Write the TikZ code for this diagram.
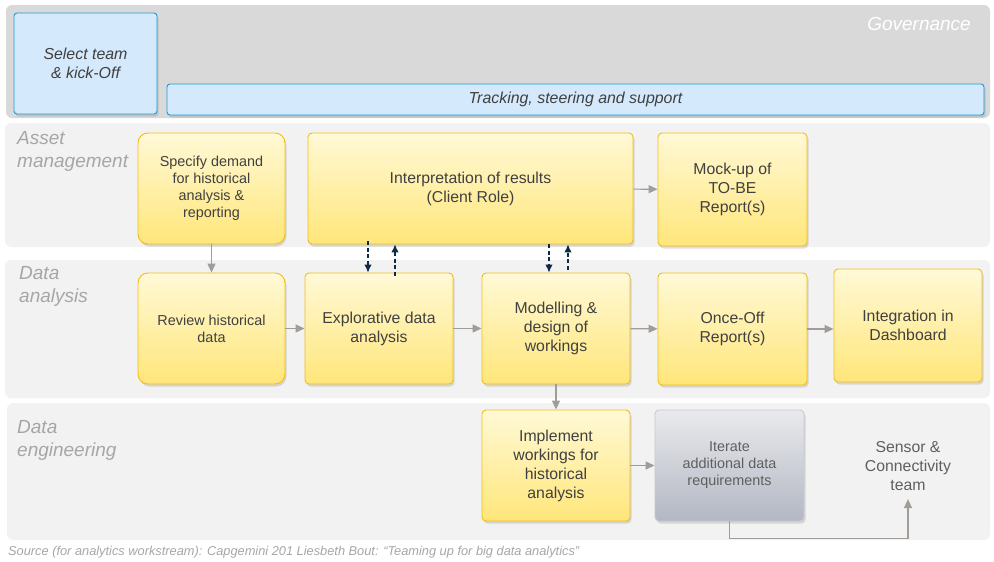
\documentclass[tikz,border=0pt]{standalone}
\usepackage{fontspec}
\setmainfont{Liberation Sans}
\usetikzlibrary{arrows.meta, shadows, positioning}
\definecolor{govgrey}{HTML}{D9D9D9}
\definecolor{lanegrey}{HTML}{F2F2F2}
\definecolor{lanetext}{HTML}{A6A6A6}
\definecolor{boxtext}{HTML}{404040}
\definecolor{softtext}{HTML}{5F5F5F}
\definecolor{taskline}{HTML}{F2BD16}
\definecolor{tasktop}{HTML}{FFF9D6}
\definecolor{taskbot}{HTML}{FFE67A}
\definecolor{bluefill}{HTML}{D4E9FC}
\definecolor{blueline}{HTML}{1D9BD6}
\definecolor{linkgrey}{HTML}{A29C98}
\definecolor{navy}{HTML}{0D2A47}
\definecolor{itertop}{HTML}{E9EAED}
\definecolor{iterbot}{HTML}{B3B7C3}
\definecolor{iterline}{HTML}{C9CACC}
\tikzset{
  boxfont/.style={font=\fontsize{15.8}{19}\selectfont},
  smallfont/.style={font=\fontsize{14.4}{17}\selectfont},
  shade/.style={drop shadow={opacity=0.25, shadow xshift=1.5pt, shadow yshift=-2.5pt}},
  task/.style={draw=taskline, line width=0.9pt, rounded corners=4pt, top color=tasktop,
    bottom color=taskbot, text=boxtext, align=center, inner sep=0pt, shade, boxfont},
  govbox/.style={draw=blueline, line width=0.9pt, rounded corners=3pt, fill=bluefill,
    text=boxtext, align=center, inner sep=0pt, shade, font=\itshape\fontsize{15.9}{19}\selectfont},
  lane/.style={fill=lanegrey, rounded corners=6pt},
  lanelabel/.style={anchor=west, inner sep=0pt, align=left, text=lanetext,
    font=\itshape\fontsize{19}{23}\selectfont},
  link/.style={draw=linkgrey, line width=1.2pt, -{Triangle[length=9pt,width=8pt]}},
  dlink/.style={draw=navy, line width=1.1pt, dash pattern=on 4pt off 2.5pt, -{Latex[length=8pt,width=7.5pt]}}
}

\begin{document}
\begin{tikzpicture}[x=1pt, y=-1pt]
\useasboundingbox (0,0) rectangle (994,562);
%% lanes
  \fill[govgrey, rounded corners=6pt] (6,5) rectangle (990,118);
  \fill[lane] (5,123) rectangle (990,247);
  \fill[lane] (5,260) rectangle (990,398);
  \fill[lane] (7,403) rectangle (990,540);
  \node[anchor=east, inner sep=0pt, text=white, font=\itshape\fontsize{19}{23}\selectfont] (gov) at (971,24) {Governance};
  \node[lanelabel] (asset) at (17,151) {Asset\\management};
  \node[lanelabel] (analysis) at (19,286) {Data\\analysis};
  \node[lanelabel] (eng) at (17,440) {Data\\engineering};
%% governance
  \node[govbox, minimum width=143pt, minimum height=101pt] (sel) at (85.5,63.5) {Select team\\ \& kick-Off};
  \node[govbox, minimum width=817pt, minimum height=31pt] (track) at (575.5,99.5) {Tracking, steering and support};
%% asset management
  \node[task, smallfont, rounded corners=10pt, minimum width=147pt, minimum height=111pt] (spec) at (211.5,188.5) {Specify demand\\for historical\\analysis \&\\reporting};
  \node[task, minimum width=325pt, minimum height=111pt] (interp) at (470.5,188.5) {Interpretation of results\\(Client Role)};
  \node[task, minimum width=149pt, minimum height=113pt] (mock) at (732.5,189.5) {Mock-up of\\TO-BE\\Report(s)};
%% data analysis
  \node[task, smallfont, rounded corners=10pt, minimum width=147pt, minimum height=111pt] (review) at (211.5,328.5) {Review historical\\data};
  \node[task, minimum width=148pt, minimum height=111pt] (expl) at (379,328.5) {Explorative data\\analysis};
  \node[task, minimum width=148pt, minimum height=111pt] (model) at (556,328.5) {Modelling \&\\design of\\workings};
  \node[task, minimum width=149pt, minimum height=112pt] (once) at (732.5,329) {Once-Off\\Report(s)};
  \node[task, minimum width=148pt, minimum height=113pt] (integ) at (908,325.5) {Integration in\\Dashboard};
%% data engineering
  \node[task, minimum width=148pt, minimum height=111pt] (impl) at (556,465.5) {Implement\\workings for\\historical\\analysis};
  \node[draw=iterline, line width=0.9pt, rounded corners=4pt, top color=itertop, bottom color=iterbot,
    text=softtext, align=center, inner sep=0pt, shade, smallfont,
    minimum width=149pt, minimum height=111pt] (iter) at (729.5,465.5) {Iterate\\additional data\\requirements};
  \node[text=softtext, align=center, boxfont] (sensor) at (908,466) {Sensor \&\\Connectivity\\team};
%% connectors
  \draw[link] (spec) -- (review);
  \draw[link] (review) -- (expl);
  \draw[link] (expl) -- (model);
  \draw[link] (model) -- (once);
  \draw[link] (once.east) -- (once.east -| integ.west);
  \draw[link] (interp) -- (mock);
  \draw[link] (model) -- (impl);
  \draw[link] (impl) -- (iter);
  \coordinate (team) at ([yshift=-5pt]sensor.south);
  \draw[link] (iter.south) -- ++(0,17) -| (team);
%% feedback with the client
  \coordinate (e1) at ([xshift=-11pt]expl.north);
  \coordinate (e2) at ([xshift=16pt]expl.north);
  \coordinate (m1) at ([xshift=-7pt]model.north);
  \coordinate (m2) at ([xshift=12pt]model.north);
  \draw[dlink] ([yshift=3pt]e1 |- interp.south) -- (e1);
  \draw[dlink] ([yshift=-3pt]e2) -- (e2 |- interp.south);
  \draw[dlink] (m1 |- interp.south) -- (m1);
  \draw[dlink] ([yshift=3pt]m2) -- (m2 |- interp.south);
%% source
  \node[anchor=west, inner sep=0pt, text=lanetext, font=\itshape\fontsize{12.8}{15}\selectfont] (src) at (8,552) {Source (for analytics workstream): Capgemini 201 Liesbeth Bout: “Teaming up for big data analytics”};
\end{tikzpicture}
\end{document}
